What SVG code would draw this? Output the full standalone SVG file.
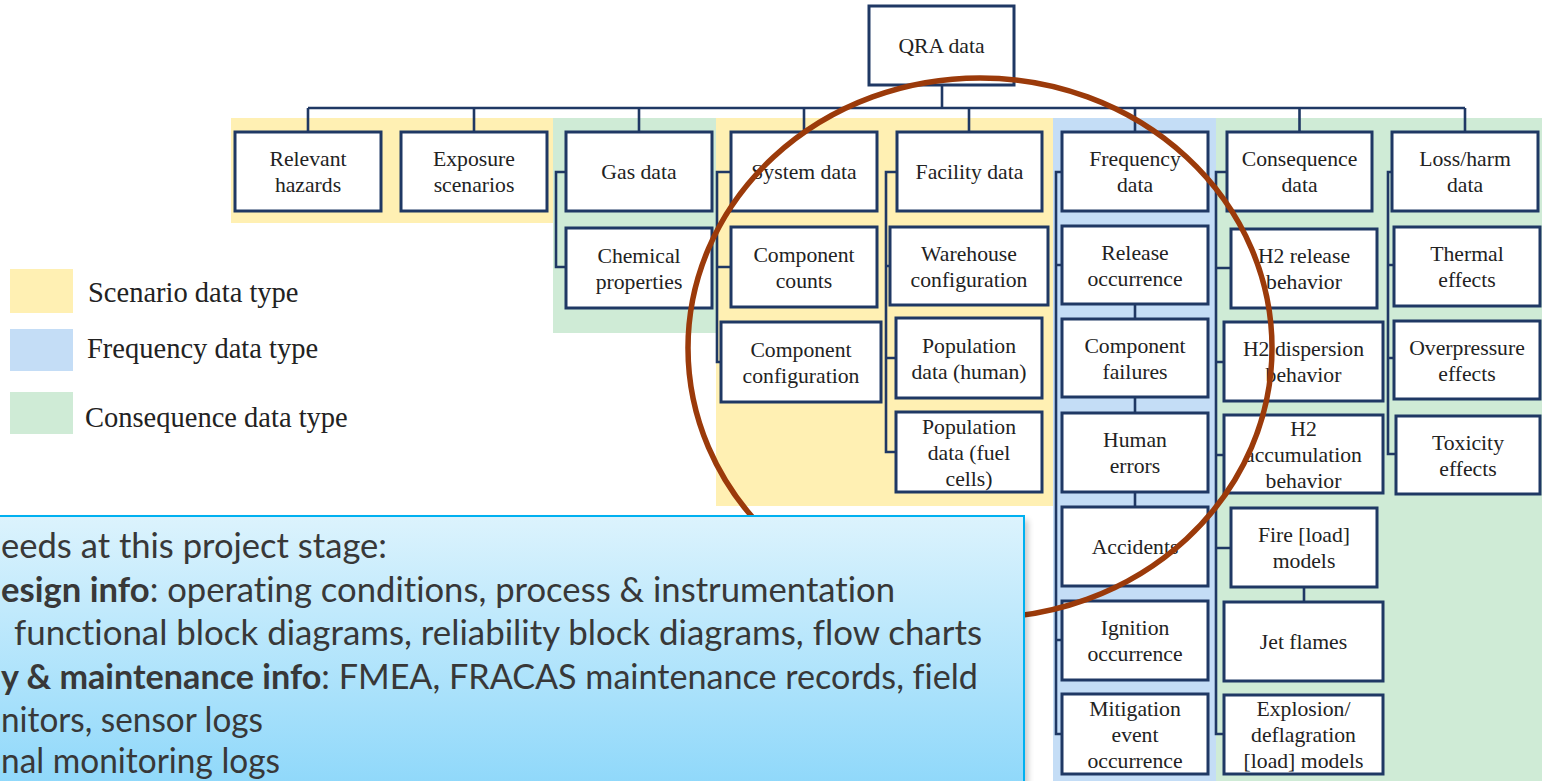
<svg xmlns="http://www.w3.org/2000/svg" width="1542" height="781" viewBox="0 0 1542 781">
<style>
.bg-y{fill:#FFF0B3}
.bg-b{fill:#C4DDF6}
.bg-g{fill:#CFEBD6}
.box{fill:#FFFFFF;stroke:#1F3864;stroke-width:3}
.conn{fill:none;stroke:#1F3864;stroke-width:2.6}
.lbl{font-family:"Liberation Serif","Times New Roman",serif;font-size:21.7px;fill:#222222;text-anchor:middle}
.leg{font-family:"Liberation Serif","Times New Roman",serif;font-size:28.5px;fill:#222222}
.note{font-family:Lato,"Open Sans","Liberation Sans",sans-serif;font-size:34px;fill:#383838;font-variant-ligatures:none}
.b{font-weight:bold}
</style>
<defs>
<linearGradient id="noteGrad" x1="0" y1="0" x2="0" y2="1">
<stop offset="0" stop-color="#DCF3FD"/>
<stop offset="1" stop-color="#8CD7FA"/>
</linearGradient>
<filter id="shadow" x="-5%" y="-5%" width="110%" height="115%">
<feGaussianBlur stdDeviation="3"/>
</filter>
</defs>

<g id="backgrounds">
<rect class="bg-y" x="231" y="118" width="322" height="105"/>
<rect class="bg-g" x="553" y="118" width="163" height="215"/>
<rect class="bg-y" x="716" y="118" width="337" height="388"/>
<rect class="bg-b" x="1053" y="118" width="163" height="663"/>
<rect class="bg-g" x="1216" y="118" width="326" height="663"/>
</g>

<g id="legend">
<rect class="bg-y" x="10" y="269" width="63" height="44"/>
<rect class="bg-b" x="10" y="329" width="63" height="42"/>
<rect class="bg-g" x="10" y="392" width="63" height="42"/>
<text class="leg" x="88" y="302">Scenario data type</text>
<text class="leg" x="87" y="358">Frequency data type</text>
<text class="leg" x="85" y="427">Consequence data type</text>
</g>

<g id="connectors">
<path class="conn" d="M942 85 V108 M308 108 H1465 M308 108 V132 M474 108 V132 M639 108 V132 M804 108 V132 M969 108 V132 M1135 108 V132 M1299.5 108 V132 M1465 108 V132"/>
<path class="conn" d="M566 172 H556 V267 H566"/>
<path class="conn" d="M731 172 H717 V362 H721 M717 267 H731"/>
<path class="conn" d="M897 172 H886 V452 H896 M886 266 H890 M886 358 H896"/>
<path class="conn" d="M1062 172 H1056 V734 H1062 M1056 265 H1062 M1056 640 H1062 M1135 304 V319 M1135 397 V413 M1135 492 V507"/>
<path class="conn" d="M1227 172 H1216 V734 H1224 M1216 268 H1231 M1216 362 H1224 M1216 455 H1224 M1216 548 H1231 M1304 587 V602"/>
<path class="conn" d="M1392 172 H1388 V454 H1396 M1388 265 H1394 M1388 358 H1394"/>
</g>

<g id="qra"><rect class="box" x="869" y="6" width="145" height="79"/><text class="lbl" x="941.5" y="53">QRA data</text></g>
<g id="relevant"><rect class="box" x="235" y="132" width="146" height="79"/><text class="lbl" x="308" y="166">Relevant</text><text class="lbl" x="308" y="192">hazards</text></g>
<g id="exposure"><rect class="box" x="401" y="132" width="146" height="79"/><text class="lbl" x="474" y="166">Exposure</text><text class="lbl" x="474" y="192">scenarios</text></g>
<g id="gas"><rect class="box" x="566" y="132" width="146" height="79"/><text class="lbl" x="639" y="179">Gas data</text></g>
<g id="system"><rect class="box" x="731" y="132" width="146" height="79"/><text class="lbl" x="804" y="179">System data</text></g>
<g id="facility"><rect class="box" x="897" y="132" width="145" height="79"/><text class="lbl" x="969.5" y="179">Facility data</text></g>
<g id="frequency"><rect class="box" x="1062" y="132" width="146" height="79"/><text class="lbl" x="1135" y="166">Frequency</text><text class="lbl" x="1135" y="192">data</text></g>
<g id="consequence"><rect class="box" x="1227" y="132" width="145" height="79"/><text class="lbl" x="1299.5" y="166">Consequence</text><text class="lbl" x="1299.5" y="192">data</text></g>
<g id="loss"><rect class="box" x="1392" y="132" width="146" height="79"/><text class="lbl" x="1465" y="166">Loss/harm</text><text class="lbl" x="1465" y="192">data</text></g>

<g id="chemical"><rect class="box" x="566" y="228" width="146" height="80"/><text class="lbl" x="639" y="262.5">Chemical</text><text class="lbl" x="639" y="288.5">properties</text></g>
<g id="compcounts"><rect class="box" x="731" y="227" width="146" height="80"/><text class="lbl" x="804" y="261.5">Component</text><text class="lbl" x="804" y="287.5">counts</text></g>
<g id="compconfig"><rect class="box" x="721" y="322" width="160" height="80"/><text class="lbl" x="801" y="356.5">Component</text><text class="lbl" x="801" y="382.5">configuration</text></g>
<g id="warehouse"><rect class="box" x="890" y="227" width="158" height="78"/><text class="lbl" x="969" y="260.5">Warehouse</text><text class="lbl" x="969" y="286.5">configuration</text></g>
<g id="pophuman"><rect class="box" x="896" y="318" width="146" height="80"/><text class="lbl" x="969" y="352.5">Population</text><text class="lbl" x="969" y="378.5">data (human)</text></g>
<g id="popfuel"><rect class="box" x="896" y="412" width="146" height="80"/><text class="lbl" x="969" y="433.5">Population</text><text class="lbl" x="969" y="459.5">data (fuel</text><text class="lbl" x="969" y="485.5">cells)</text></g>

<g id="release"><rect class="box" x="1062" y="226" width="146" height="78"/><text class="lbl" x="1135" y="259.5">Release</text><text class="lbl" x="1135" y="285.5">occurrence</text></g>
<g id="compfail"><rect class="box" x="1062" y="319" width="146" height="78"/><text class="lbl" x="1135" y="352.5">Component</text><text class="lbl" x="1135" y="378.5">failures</text></g>
<g id="human"><rect class="box" x="1062" y="413" width="146" height="79"/><text class="lbl" x="1135" y="447">Human</text><text class="lbl" x="1135" y="473">errors</text></g>
<g id="accidents"><rect class="box" x="1062" y="507" width="146" height="79"/><text class="lbl" x="1135" y="554">Accidents</text></g>
<g id="ignition"><rect class="box" x="1062" y="601" width="146" height="79"/><text class="lbl" x="1135" y="635">Ignition</text><text class="lbl" x="1135" y="661">occurrence</text></g>
<g id="mitigation"><rect class="box" x="1062" y="694" width="146" height="80"/><text class="lbl" x="1135" y="715.5">Mitigation</text><text class="lbl" x="1135" y="741.5">event</text><text class="lbl" x="1135" y="767.5">occurrence</text></g>

<g id="h2release"><rect class="box" x="1231" y="229" width="146" height="79"/><text class="lbl" x="1304" y="263">H2 release</text><text class="lbl" x="1304" y="289">behavior</text></g>
<g id="h2disp"><rect class="box" x="1224" y="322" width="159" height="79"/><text class="lbl" x="1303.5" y="356">H2 dispersion</text><text class="lbl" x="1303.5" y="382">behavior</text></g>
<g id="h2accum"><rect class="box" x="1224" y="415" width="159" height="78"/><text class="lbl" x="1303.5" y="435.5">H2</text><text class="lbl" x="1303.5" y="461.5">accumulation</text><text class="lbl" x="1303.5" y="487.5">behavior</text></g>
<g id="fire"><rect class="box" x="1231" y="508" width="146" height="79"/><text class="lbl" x="1304" y="542">Fire [load]</text><text class="lbl" x="1304" y="568">models</text></g>
<g id="jet"><rect class="box" x="1224" y="602" width="159" height="79"/><text class="lbl" x="1303.5" y="649">Jet flames</text></g>
<g id="explosion"><rect class="box" x="1224" y="695" width="159" height="79"/><text class="lbl" x="1303.5" y="716">Explosion/</text><text class="lbl" x="1303.5" y="742">deflagration</text><text class="lbl" x="1303.5" y="768">[load] models</text></g>

<g id="thermal"><rect class="box" x="1394" y="227" width="146" height="79"/><text class="lbl" x="1467" y="261">Thermal</text><text class="lbl" x="1467" y="287">effects</text></g>
<g id="overpressure"><rect class="box" x="1394" y="321" width="146" height="78"/><text class="lbl" x="1467" y="354.5">Overpressure</text><text class="lbl" x="1467" y="380.5">effects</text></g>
<g id="toxicity"><rect class="box" x="1396" y="416" width="144" height="78"/><text class="lbl" x="1468" y="449.5">Toxicity</text><text class="lbl" x="1468" y="475.5">effects</text></g>

<g id="highlight">
<ellipse cx="980" cy="348" rx="292" ry="270" fill="none" stroke="#9B3A0A" stroke-width="5.5"/>
</g>

<g id="note">
<rect x="1" y="520" width="1027" height="280" fill="#000" opacity="0.22" filter="url(#shadow)"/>
<rect x="-3" y="516" width="1027" height="280" fill="url(#noteGrad)" stroke="#00B0F0" stroke-width="2"/>
<text class="note" x="1" y="558" textLength="386" lengthAdjust="spacingAndGlyphs">eeds at this project stage:</text>
<text class="note" x="1" y="601.5" textLength="894" lengthAdjust="spacingAndGlyphs"><tspan class="b">esign info</tspan>: operating conditions, process &amp; instrumentation</text>
<text class="note" x="14" y="645" textLength="968" lengthAdjust="spacingAndGlyphs">functional block diagrams, reliability block diagrams, flow charts</text>
<text class="note" x="1" y="688.5" textLength="977" lengthAdjust="spacingAndGlyphs"><tspan class="b">y &amp; maintenance info</tspan>: FMEA, FRACAS maintenance records, field</text>
<text class="note" x="1" y="732" textLength="262" lengthAdjust="spacingAndGlyphs">nitors, sensor logs</text>
<text class="note" x="1" y="773" textLength="279" lengthAdjust="spacingAndGlyphs">nal monitoring logs</text>
</g>
</svg>
